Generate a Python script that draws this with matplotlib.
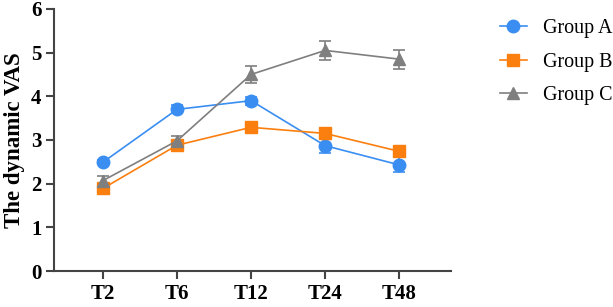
import numpy as np
import matplotlib.pyplot as plt
from matplotlib.lines import Line2D

plt.rcParams['font.family'] = ['Liberation Serif', 'DejaVu Serif']

times = ['T2', 'T6', 'T12', 'T24', 'T48']
group_a = [2.49, 3.70, 3.90, 2.87, 2.43]
group_a_err = [0.05, 0.09, 0.09, 0.17, 0.17]
group_b = [1.89, 2.88, 3.29, 3.15, 2.74]
group_b_err = [0.06, 0.08, 0.09, 0.07, 0.08]
group_c = [2.07, 2.98, 4.50, 5.05, 4.85]
group_c_err = [0.11, 0.12, 0.20, 0.22, 0.22]

fig = plt.figure(figsize=(6.13, 3.07), dpi=100)
ax = fig.add_axes([0.088, 0.117, 0.648, 0.854])

x = np.arange(len(times))
series = [
    ('Group A', group_a, group_a_err, '#3a8ef2', 'o', 9),
    ('Group B', group_b, group_b_err, '#fb7f0f', 's', 9),
    ('Group C', group_c, group_c_err, '#7f7f7f', '^', 9),
]
handles = []
for name, vals, err, col, mk, ms in series:
    ax.errorbar(x, vals, yerr=err, color=col, marker=mk, markersize=ms,
                linewidth=1.2, capsize=4, elinewidth=1.2, capthick=1.2)
    handles.append(Line2D([], [], color=col, marker=mk, markersize=ms,
                          linewidth=1.2, label=name))

ax.set_xlim(-0.66, 4.7)
ax.set_ylim(0, 6)
ax.set_xticks(x)
ax.set_xticklabels(times)
ax.set_yticks(range(7))
for s in ['top', 'right']:
    ax.spines[s].set_visible(False)
for s in ['left', 'bottom']:
    ax.spines[s].set_linewidth(1.5)
    ax.spines[s].set_color('#444444')
ax.tick_params(width=1.5, length=6, color='#444444', labelsize=15, pad=3)
for lbl in ax.get_xticklabels() + ax.get_yticklabels():
    lbl.set_fontweight('bold')
ax.set_ylabel('The dynamic VAS', fontsize=16.5, fontweight='bold', labelpad=4)

fig.legend(handles=handles, loc='upper left', bbox_to_anchor=(0.786, 0.997),
           frameon=False, fontsize=14.4, handlelength=1.35, handletextpad=0.8,
           labelspacing=0.73)

fig.savefig('out.png', dpi=100)
